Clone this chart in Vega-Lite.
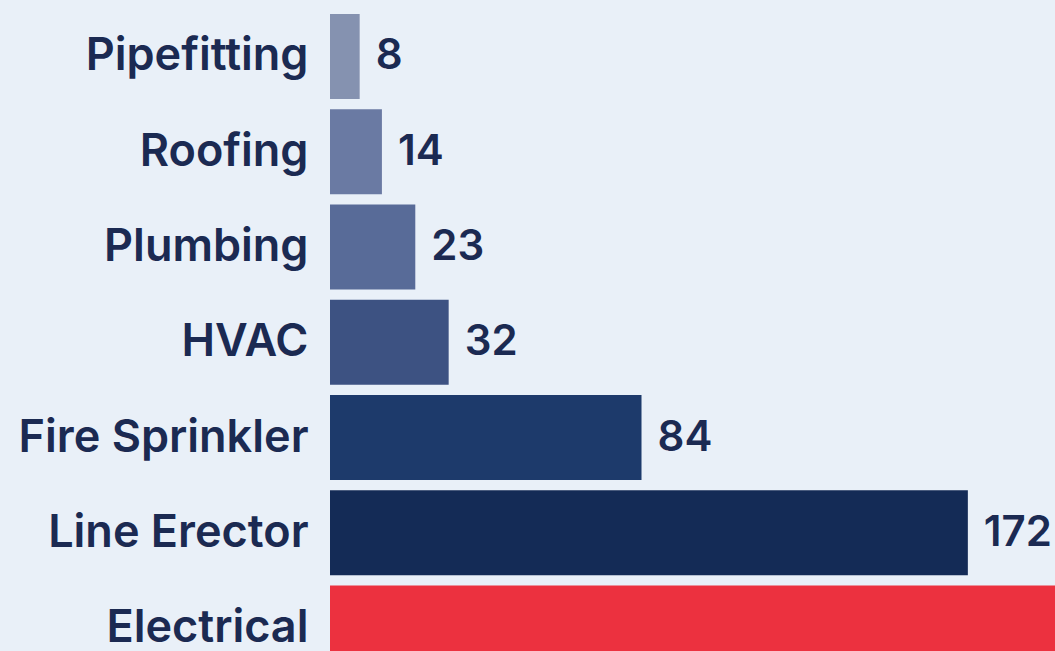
{
  "$schema": "https://vega.github.io/schema/vega-lite/v6.json",
  "width": 725,
  "height": 651,
  "autosize": {"type": "none"},
  "padding": {"left": 330, "top": 0, "right": 0, "bottom": 0},
  "background": "#e9f0f8",
  "config": {"view": {"stroke": null}},
  "data": {
    "values": [
      {"trade": "Pipefitting", "value": 8},
      {"trade": "Roofing", "value": 14},
      {"trade": "Plumbing", "value": 23},
      {"trade": "HVAC", "value": 32},
      {"trade": "Fire Sprinkler", "value": 84},
      {"trade": "Line Erector", "value": 172},
      {"trade": "Electrical", "value": 300}
    ]
  },
  "encoding": {
    "y": {
      "field": "trade",
      "type": "nominal",
      "sort": null,
      "scale": {"range": [9.2, 675.4], "paddingInner": 0.107, "paddingOuter": 0.05},
      "axis": {
        "title": null,
        "domain": false,
        "ticks": false,
        "labelFontSize": 45,
        "labelFont": "Inter",
        "labelFontWeight": 600,
        "labelColor": "#1b2a52",
        "labelPadding": 22,
        "labelLimit": 400
      }
    },
    "x": {
      "field": "value",
      "type": "quantitative",
      "scale": {"domain": [0, 195.5]},
      "axis": null
    }
  },
  "layer": [
    {
      "mark": {"type": "bar", "clip": true},
      "encoding": {
        "color": {
          "field": "trade",
          "type": "nominal",
          "scale": {
            "domain": ["Pipefitting", "Roofing", "Plumbing", "HVAC", "Fire Sprinkler", "Line Erector", "Electrical"],
            "range": ["#8592b0", "#6a7aa3", "#586b98", "#3d5282", "#1d3a6b", "#142b56", "#ec313f"]
          },
          "legend": null
        }
      }
    },
    {
      "transform": [{"filter": "datum.trade != 'Electrical'"}],
      "mark": {
        "type": "text",
        "align": "left",
        "baseline": "middle",
        "dx": 16,
        "fontSize": 42,
        "font": "Inter",
        "fontWeight": 600,
        "color": "#1b2a52",
        "clip": true
      },
      "encoding": {"text": {"field": "value", "type": "quantitative"}}
    }
  ]
}
